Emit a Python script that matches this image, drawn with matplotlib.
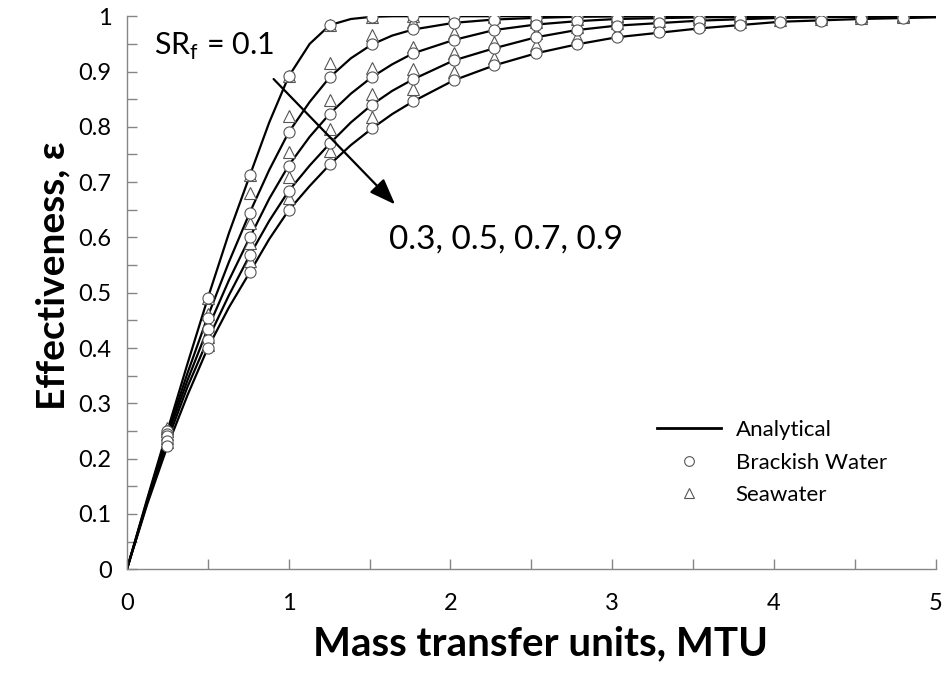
import matplotlib
matplotlib.use('Agg')
import matplotlib.pyplot as plt
from matplotlib.lines import Line2D
from matplotlib.ticker import MultipleLocator

plt.rcParams['font.family'] = ['Lato', 'DejaVu Sans']

# analytical curves
mtu_line = [0, 0.125, 0.25, 0.375, 0.5, 0.63, 0.76, 0.88, 1.0, 1.13, 1.255, 1.385,
            1.515, 1.64, 1.77, 2.02, 2.27, 2.53, 2.78, 3.03, 3.54, 4.04, 4.54, 5.0]
eff_line = {
    0.1: [0, 0.127, 0.25, 0.372, 0.49, 0.607, 0.712, 0.808, 0.891, 0.95, 0.984, 0.995,
          0.999, 1.0, 1.0, 1.0, 1.0, 1.0, 1.0, 1.0, 1.0, 1.0, 1.0, 1.0],
    0.3: [0, 0.124, 0.245, 0.355, 0.457, 0.555, 0.645, 0.722, 0.79, 0.845, 0.89, 0.924,
          0.949, 0.965, 0.976, 0.988, 0.994, 0.997, 0.999, 1.0, 1.0, 1.0, 1.0, 1.0],
    0.5: [0, 0.122, 0.24, 0.342, 0.435, 0.522, 0.60, 0.67, 0.73, 0.782, 0.824, 0.86,
          0.89, 0.913, 0.933, 0.957, 0.975, 0.985, 0.991, 0.995, 0.998, 0.999, 1.0, 1.0],
    0.7: [0, 0.12, 0.232, 0.33, 0.415, 0.495, 0.568, 0.63, 0.684, 0.73, 0.77, 0.808,
          0.84, 0.865, 0.886, 0.92, 0.942, 0.962, 0.975, 0.983, 0.992, 0.997, 0.999, 1.0],
    0.9: [0, 0.117, 0.222, 0.315, 0.40, 0.473, 0.537, 0.597, 0.649, 0.693, 0.732, 0.767,
          0.797, 0.823, 0.846, 0.884, 0.911, 0.933, 0.949, 0.962, 0.978, 0.99, 0.995, 0.998],
}

# simulated points
mtu_pts = [0.25, 0.5, 0.76, 1.0, 1.255, 1.515, 1.77, 2.02, 2.27, 2.53, 2.78, 3.03,
           3.29, 3.54, 3.79, 4.04, 4.29, 4.54, 4.8]
eff_brackish = {
    0.1: [0.25, 0.49, 0.712, 0.891, 0.984, 0.998] + [1.0] * 13,
    0.3: [0.245, 0.455, 0.645, 0.79, 0.89, 0.949, 0.976, 0.987, 0.994, 0.997, 0.999] + [1.0] * 8,
    0.5: [0.24, 0.435, 0.60, 0.73, 0.824, 0.89, 0.933, 0.957, 0.975, 0.985, 0.991, 0.995,
          0.997, 0.998, 0.999, 1.0, 1.0, 1.0, 1.0],
    0.7: [0.232, 0.415, 0.568, 0.684, 0.77, 0.84, 0.886, 0.92, 0.942, 0.962, 0.975, 0.983,
          0.988, 0.992, 0.995, 0.997, 0.998, 0.999, 1.0],
    0.9: [0.222, 0.40, 0.537, 0.649, 0.732, 0.797, 0.846, 0.884, 0.911, 0.933, 0.949, 0.962,
          0.971, 0.978, 0.984, 0.989, 0.992, 0.995, 0.997],
}
eff_seawater = {
    0.1: [0.256, 0.49, 0.712, 0.891, 0.984, 0.998] + [1.0] * 13,
    0.3: [0.25, 0.462, 0.68, 0.82, 0.915, 0.966, 0.99, 0.996, 0.998, 0.999] + [1.0] * 9,
    0.5: [0.245, 0.44, 0.626, 0.754, 0.848, 0.906, 0.944, 0.97, 0.985, 0.99, 0.995, 0.997,
          0.998, 0.999] + [1.0] * 5,
    0.7: [0.238, 0.42, 0.59, 0.709, 0.796, 0.859, 0.904, 0.933, 0.953, 0.97, 0.98, 0.987,
          0.992, 0.995, 0.997, 0.998, 0.999, 1.0, 1.0],
    0.9: [0.23, 0.405, 0.558, 0.672, 0.756, 0.818, 0.868, 0.90, 0.924, 0.948, 0.962, 0.972,
          0.98, 0.986, 0.99, 0.993, 0.995, 0.997, 0.998],
}
ytick_vals = [0, 0.1, 0.2, 0.3, 0.4, 0.5, 0.6, 0.7, 0.8, 0.9, 1]
ytick_labels = ['0', '0.1', '0.2', '0.3', '0.4', '0.5', '0.6', '0.7', '0.8', '0.9', '1']

fig = plt.figure(figsize=(9.47, 6.76), dpi=100)
ax = fig.add_axes([0.134, 0.158, 0.854, 0.818])

mk_edge = '#555555'
for sr in eff_line:
    ax.plot(mtu_line, eff_line[sr], color='black', lw=1.6, zorder=2)
for sr in eff_seawater:
    ax.plot(mtu_pts, eff_seawater[sr], ls='none', marker='^', ms=8, mfc='white',
            mec=mk_edge, mew=0.8, zorder=3)
for sr in eff_brackish:
    ax.plot(mtu_pts, eff_brackish[sr], ls='none', marker='o', ms=8, mfc='white',
            mec=mk_edge, mew=0.8, zorder=3)

ax.set_xlim(0, 5)
ax.set_ylim(0, 1)
ax.xaxis.set_major_locator(MultipleLocator(1))
ax.xaxis.set_minor_locator(MultipleLocator(0.5))
ax.set_yticks(ytick_vals)
ax.set_yticklabels(ytick_labels)
ax.yaxis.set_minor_locator(MultipleLocator(0.05))
ax.tick_params(which='both', direction='in', length=7, color='#868686', width=1)
ax.tick_params(labelsize=17)
ax.tick_params(axis='x', pad=17)
ax.tick_params(axis='y', pad=11)
for s in ['top', 'right']:
    ax.spines[s].set_visible(False)
for s in ['left', 'bottom']:
    ax.spines[s].set_color('#868686')
    ax.spines[s].set_linewidth(1)

ax.set_xlabel('Mass transfer units, MTU', fontsize=29, fontweight='bold', labelpad=8)
ax.set_ylabel('Effectiveness, ε', fontsize=28, fontweight='bold', labelpad=6)
ax.xaxis.label.set_x(0.511)
ax.yaxis.label.set_y(0.53)

ax.text(0.17, 0.945, r'SR$_\mathregular{f}$ = 0.1', fontsize=22, ha='left', va='center')
ax.text(1.62, 0.597, '0.3, 0.5, 0.7, 0.9', fontsize=24, ha='left', va='center')
ax.annotate('', xy=(1.67, 0.656), xytext=(0.895, 0.89),
            arrowprops=dict(arrowstyle='-|>,head_length=1.6,head_width=0.6',
                            color='black', lw=1.6))

handles = [
    Line2D([], [], color='black', lw=2),
    Line2D([], [], ls='none', marker='o', ms=7, mfc='white', mec=mk_edge, mew=0.8),
    Line2D([], [], ls='none', marker='^', ms=7, mfc='white', mec=mk_edge, mew=0.8),
]
ax.legend(handles, ['Analytical', 'Brackish Water', 'Seawater'], loc='upper left',
          bbox_to_anchor=(0.655, 0.27), frameon=False, fontsize=16,
          handlelength=2.9, handletextpad=0.65, labelspacing=0.57, borderpad=0,
          borderaxespad=0)

fig.savefig('out.png', dpi=100)
